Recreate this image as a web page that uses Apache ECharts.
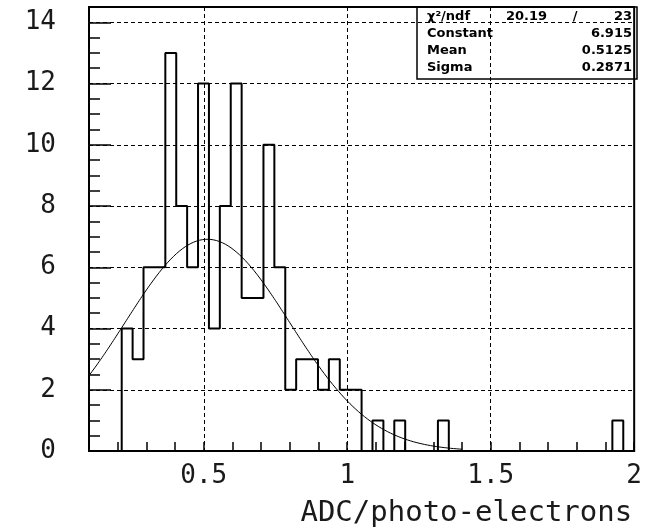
<!DOCTYPE html>
<html>
<head>
<meta charset="utf-8">
<script src="https://cdn.jsdelivr.net/npm/echarts@6.0.0/dist/echarts.min.js"></script>
<style>
  html, body { margin: 0; padding: 0; background: #fff; }
  #main { width: 645px; height: 529px; }
</style>
</head>
<body>
<div id="main"></div>
<script>
// 直方图分箱 (50 bins, 0.1 ~ 2.0)
var binLow = 0.1
var binWidth = 0.038
var counts = [0,0,0,4,3,6,6,13,8,6, 12,4,8,12,5,5,10,6,2,3, 3,2,3,2,2,0,1,0,1,0, 0,0,1,0,0,0,0,0,0,0, 0,0,0,0,0,0,0,0,1,0]

// 坐标轴刻度
var xTickValues = [0.5, 1, 1.5, 2]
var xTickLabels = ['0.5', '1', '1.5', '2']
var yTickValues = [0, 2, 4, 6, 8, 10, 12, 14]

// 拟合结果 (统计框)
var chi2 = '20.19'
var ndf = '23'
var statNames = ['Constant', 'Mean', 'Sigma']
var statValues = ['6.915', '0.5125', '0.2871']
var fitRange = [0.1, 1.4]

var xTitle = 'ADC/photo-electrons'

// 直方图轮廓点
function histData() {
    var pts = []
    counts.forEach(function (c, i) {
        pts.push([+(binLow + i * binWidth).toFixed(4), c])
    })
    pts.push([+(binLow + counts.length * binWidth).toFixed(4), 0])
    return pts
}

// 高斯拟合曲线
function fitData() {
    var A = parseFloat(statValues[0])
    var mu = parseFloat(statValues[1])
    var s = parseFloat(statValues[2])
    var pts = []
    for (var x = fitRange[0]; x <= fitRange[1] + 1e-9; x += 0.005) {
        pts.push([x, A * Math.exp(-0.5 * Math.pow((x - mu) / s, 2))])
    }
    return pts
}

var tickFont = 'DejaVu Sans Mono'
var statFont = 'bold 13px DejaVu Sans'

var option = {
    animation: false,
    backgroundColor: '#fff',
    grid: {
        left: 89, right: 8, top: 7, bottom: 78,
        show: true, borderColor: '#000', borderWidth: 2,
        backgroundColor: 'transparent'
    },
    xAxis: {
        type: 'value',
        min: 0.1, max: 2.0, interval: 0.1,
        axisLine: { show: false },
        axisTick: { inside: true, length: 9, lineStyle: { color: '#000', width: 1.5 } },
        axisLabel: {
            margin: 12, color: '#1a1a1a', fontFamily: tickFont, fontSize: 26,
            formatter: function (v) {
                for (var i = 0; i < xTickValues.length; i++) {
                    if (Math.abs(v - xTickValues[i]) < 1e-6) return xTickLabels[i]
                }
                return ''
            }
        },
        splitLine: {
            show: true,
            lineStyle: { color: ['transparent', 'transparent', 'transparent', 'transparent', '#000'], type: [4, 3], width: 1 }
        },
        name: xTitle,
        nameLocation: 'end',
        nameGap: -2,
        nameTextStyle: {
            align: 'right', verticalAlign: 'top', padding: [48, 0, 0, 0],
            color: '#1a1a1a', fontFamily: tickFont, fontSize: 29
        }
    },
    yAxis: [
        {
            type: 'value',
            min: 0, max: 14.5, interval: 2,
            axisLine: { show: false },
            axisTick: { inside: true, length: 22, lineStyle: { color: '#000', width: 1.5 } },
            axisLabel: {
                margin: 33, color: '#1a1a1a', fontFamily: tickFont, fontSize: 26,
                showMaxLabel: false,
                formatter: function (v) {
                    return yTickValues.indexOf(v) >= 0 ? String(v) : ''
                }
            },
            splitLine: { show: true, lineStyle: { color: '#000', type: [4, 3], width: 1 } }
        },
        {
            // 次刻度
            type: 'value', position: 'left',
            min: 0, max: 14.5, interval: 0.5,
            axisLine: { show: false },
            axisTick: { inside: true, length: 11, lineStyle: { color: '#000', width: 1.5 } },
            axisLabel: { show: false },
            splitLine: { show: false }
        }
    ],
    graphic: [
        {
            type: 'rect', shape: { x: 417, y: 7, width: 220, height: 72 },
            style: { fill: 'none', stroke: '#000', lineWidth: 1.5 }, z: 10
        },
        { type: 'text', x: 427, y: 17, style: { text: 'χ²/ndf', font: statFont, fill: '#000', verticalAlign: 'middle' }, z: 10 },
        { type: 'text', x: 547, y: 17, style: { text: chi2, font: statFont, fill: '#000', align: 'right', verticalAlign: 'middle' }, z: 10 },
        { type: 'text', x: 575, y: 17, style: { text: '/', font: statFont, fill: '#000', align: 'center', verticalAlign: 'middle' }, z: 10 },
        { type: 'text', x: 632, y: 17, style: { text: ndf, font: statFont, fill: '#000', align: 'right', verticalAlign: 'middle' }, z: 10 }
    ],
    series: [
        {
            name: 'hist', type: 'line', step: 'end',
            data: histData(), symbol: 'none',
            lineStyle: { color: '#000', width: 2 }, z: 5
        },
        {
            name: 'gaus', type: 'line',
            data: fitData(), symbol: 'none', smooth: false,
            lineStyle: { color: '#000', width: 1 }, z: 6
        }
    ]
}

// 统计框其余行
statNames.forEach(function (n, i) {
    var y = 34 + i * 17
    option.graphic.push({ type: 'text', x: 427, y: y, style: { text: n, font: statFont, fill: '#000', verticalAlign: 'middle' }, z: 10 })
    option.graphic.push({ type: 'text', x: 632, y: y, style: { text: statValues[i], font: statFont, fill: '#000', align: 'right', verticalAlign: 'middle' }, z: 10 })
})

var myChart = echarts.init(document.getElementById('main'))
myChart.setOption(option)
</script>
</body>
</html>
